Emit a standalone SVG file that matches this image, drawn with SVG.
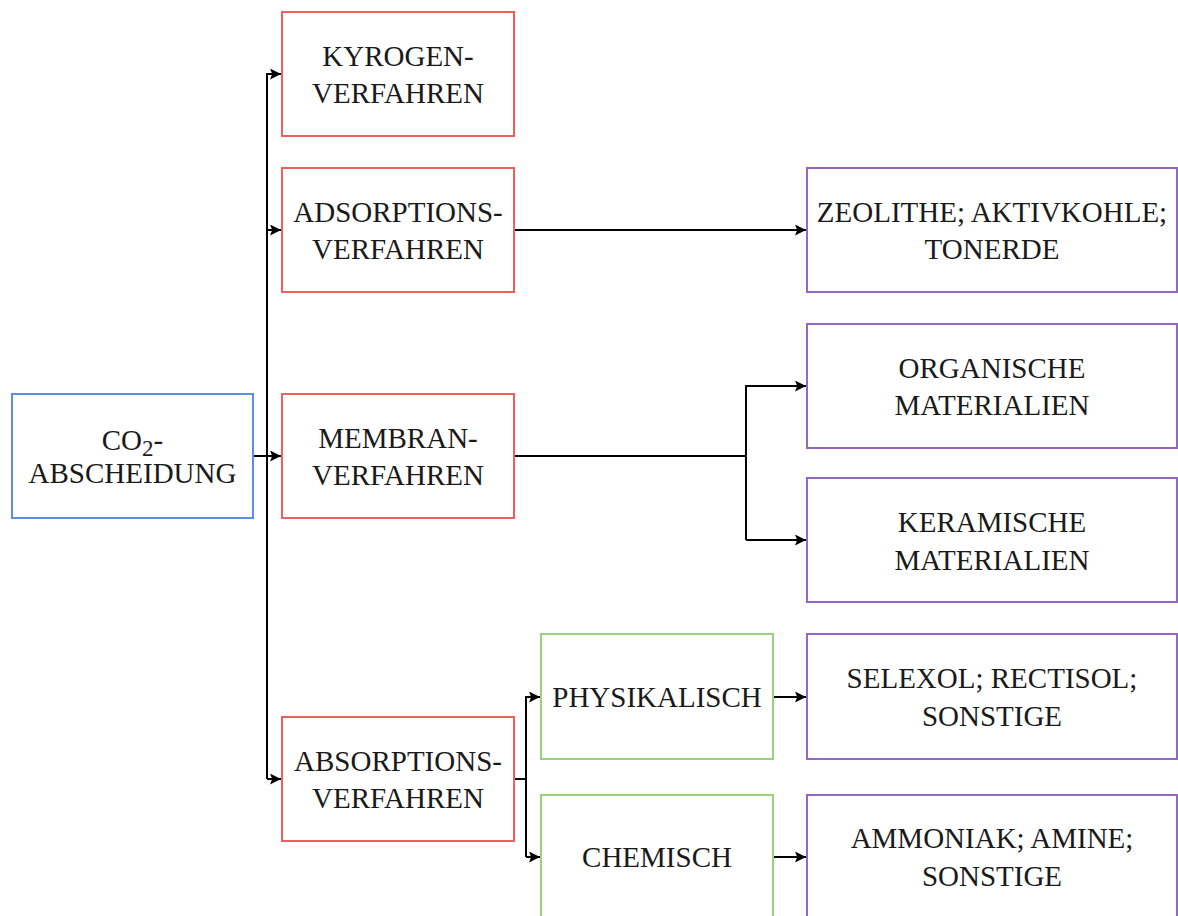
<svg xmlns="http://www.w3.org/2000/svg" width="1178" height="916" viewBox="0 0 1178 916">
<defs>
<marker id="arr" viewBox="0 0 10 10" refX="10" refY="5" markerWidth="11" markerHeight="11" markerUnits="userSpaceOnUse" orient="auto">
<path d="M0,0 L10,5 L0,10 L2,5 z" fill="#000"/>
</marker>
<style>
.box{fill:#fff;stroke-width:2}
.blue{stroke:#5a8ee4}
.red{stroke:#ee5f5f}
.green{stroke:#98d37a}
.purple{stroke:#9466c6}
text{font-family:"Liberation Serif","Times New Roman",serif;font-size:29px;fill:#1a1a1a;text-anchor:middle}
.c{fill:none;stroke:#000;stroke-width:2}
</style>
</defs>
<rect width="1178" height="916" fill="#fff"/>
<g id="connectors">
<polyline class="c" points="253,456 267,456"/>
<polyline class="c" points="267,779 267,74 281,74" marker-end="url(#arr)"/>
<polyline class="c" points="267,230 281,230" marker-end="url(#arr)"/>
<polyline class="c" points="267,456 281,456" marker-end="url(#arr)"/>
<polyline class="c" points="267,779 281,779" marker-end="url(#arr)"/>
<polyline class="c" points="514,230 806,230" marker-end="url(#arr)"/>
<polyline class="c" points="514,456 746,456"/>
<polyline class="c" points="746,540 746,386 806,386" marker-end="url(#arr)"/>
<polyline class="c" points="746,540 806,540" marker-end="url(#arr)"/>
<polyline class="c" points="514,779 526,779"/>
<polyline class="c" points="526,857 526,697 540,697" marker-end="url(#arr)"/>
<polyline class="c" points="526,857 540,857" marker-end="url(#arr)"/>
<polyline class="c" points="773,697 806,697" marker-end="url(#arr)"/>
<polyline class="c" points="773,857 806,857" marker-end="url(#arr)"/>
</g>
<g id="co2">
<rect class="box blue" x="12" y="394" width="241" height="124"/>
<text x="132.5" y="450">CO<tspan font-size="23" baseline-shift="-6">2</tspan>-</text>
<text x="132.5" y="483">ABSCHEIDUNG</text>
</g>
<g id="kyrogen">
<rect class="box red" x="282" y="12" width="232" height="124"/>
<text x="398" y="66">KYROGEN-</text>
<text x="398" y="103">VERFAHREN</text>
</g>
<g id="adsorption">
<rect class="box red" x="282" y="168" width="232" height="124"/>
<text x="398" y="222">ADSORPTIONS-</text>
<text x="398" y="259">VERFAHREN</text>
</g>
<g id="membran">
<rect class="box red" x="282" y="394" width="232" height="124"/>
<text x="398" y="448">MEMBRAN-</text>
<text x="398" y="485">VERFAHREN</text>
</g>
<g id="absorption">
<rect class="box red" x="282" y="717" width="232" height="124"/>
<text x="398" y="771">ABSORPTIONS-</text>
<text x="398" y="808">VERFAHREN</text>
</g>
<g id="physikalisch">
<rect class="box green" x="541" y="634" width="232" height="125"/>
<text x="657" y="707">PHYSIKALISCH</text>
</g>
<g id="chemisch">
<rect class="box green" x="541" y="795" width="232" height="130"/>
<text x="657" y="867">CHEMISCH</text>
</g>
<g id="zeolithe">
<rect class="box purple" x="807" y="168" width="370" height="124"/>
<text x="992" y="222">ZEOLITHE; AKTIVKOHLE;</text>
<text x="992" y="259">TONERDE</text>
</g>
<g id="organisch">
<rect class="box purple" x="807" y="324" width="370" height="124"/>
<text x="992" y="378">ORGANISCHE</text>
<text x="992" y="415">MATERIALIEN</text>
</g>
<g id="keramisch">
<rect class="box purple" x="807" y="478" width="370" height="124"/>
<text x="992" y="532">KERAMISCHE</text>
<text x="992" y="570">MATERIALIEN</text>
</g>
<g id="selexol">
<rect class="box purple" x="807" y="634" width="370" height="125"/>
<text x="992" y="688">SELEXOL; RECTISOL;</text>
<text x="992" y="726">SONSTIGE</text>
</g>
<g id="ammoniak">
<rect class="box purple" x="807" y="795" width="370" height="130"/>
<text x="992" y="848">AMMONIAK; AMINE;</text>
<text x="992" y="886">SONSTIGE</text>
</g>
</svg>
